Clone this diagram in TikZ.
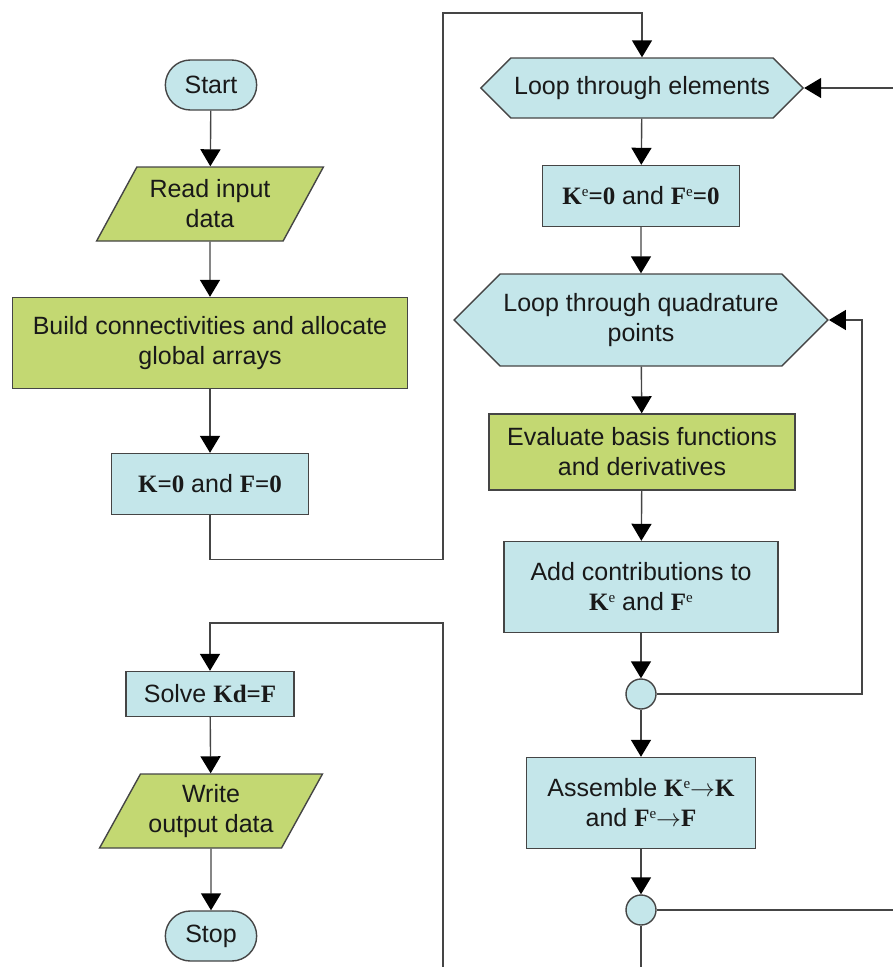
\documentclass[tikz,border=0pt]{standalone}
\usepackage{fontspec}
\setmainfont{Liberation Sans}
\newfontfamily\tms{Liberation Serif}
\usepackage{tikz}
\usetikzlibrary{arrows.meta,shapes.geometric,shapes.misc,shapes.symbols}

\definecolor{boxblue}{HTML}{C4E6EA}
\definecolor{boxgreen}{HTML}{C3D872}
\definecolor{edge}{HTML}{454545}
\newcommand{\vb}[1]{{\tms\bfseries #1}}
\newcommand{\supe}{\raisebox{8pt}{\tms\fontsize{15}{15}\selectfont e}}
\newcommand{\toarr}{$\rightarrow$}

\begin{document}
\begin{tikzpicture}[x=1pt, y=-1pt, line width=1.4pt,
    every node/.style={font=\fontsize{25}{30}\selectfont, text=black!90, align=center},
    term/.style={rounded rectangle, draw=edge, fill=boxblue, minimum width=98pt, minimum height=50pt},
    io/.style={trapezium, trapezium left angle=58, trapezium right angle=122, trapezium stretches=true,
        draw=edge, fill=boxgreen, minimum height=74pt, inner xsep=2pt},
    proc/.style={rectangle, draw=edge, fill=boxblue},
    work/.style={rectangle, draw=edge, fill=boxgreen},
    loopbox/.style={signal, signal to=east and west, signal pointer angle=90, draw=edge, fill=boxblue},
    joint/.style={circle, draw=edge, fill=boxblue, minimum size=30pt, inner sep=0pt},
    flow/.style={draw=edge, -{Triangle[length=17pt,width=20pt,black]}}]
    \useasboundingbox (0,0) rectangle (893,967);

    % Left column
    \node[term] (start) at (211,85) {Start};
    \node[io, minimum width=227pt] (read) at (210,204) {Read input\\data};
    \node[work, minimum width=395pt, minimum height=91pt] (build) at (210,343) {Build connectivities and allocate\\global arrays};
    \node[proc, minimum width=197pt, minimum height=61pt] (kzero) at (210,484) {\vb{K=0} and \vb{F=0}};

    % Element loop
    \node[loopbox, minimum width=320pt, minimum height=60pt] (lpel) at (642,88) {Loop through elements};
    \node[proc, minimum width=197pt, minimum height=61pt] (kezero) at (641,196) {\vb{K}\supe\vb{=0} and \vb{F}\supe\vb{=0}};

    % Quadrature loop
    \node[loopbox, minimum width=350pt, minimum height=92pt] (lpq) at (641,320) {Loop through quadrature\\points};
    \node[work, minimum width=306pt, minimum height=76pt] (evalb) at (642,452) {Evaluate basis functions\\and derivatives};
    \node[proc, minimum width=274pt, minimum height=91pt] (addc) at (641,587) {Add contributions to\\\vb{K}\supe{} and \vb{F}\supe};
    \node[joint] (circ1) at (641,694) {};
    \node[proc, minimum width=229pt, minimum height=91pt] (asm) at (641,803) {Assemble \vb{K}\supe\toarr\vb{K}\\and \vb{F}\supe\toarr\vb{F}};
    \node[joint] (circ2) at (641,910) {};

    % Solve and output
    \node[proc, minimum width=168pt, minimum height=45pt] (solve) at (210,694) {Solve \vb{Kd=F}};
    \node[io, minimum width=223pt] (writ) at (211,811) {Write\\output data};
    \node[term] (stop) at (211,936) {Stop};

    % Loose ends
    \coordinate (topL) at (443,13);
    \coordinate (elIn) at (893,88);
    \coordinate (qret) at (862,320);
    \coordinate (elOut) at (893,910);
    \coordinate (asmOut) at (641,967);
    \coordinate (botL) at (443,967);
    \coordinate (retL) at (443,623);

    % Connectors
    \draw[flow] (start) -- (read);
    \draw[flow] (read) -- (build);
    \draw[flow] (build) -- (kzero);
    \draw[flow] (kzero.south) -- ++(0,44) -| (topL) -| (lpel.north);
    \draw[flow] (elIn) -- (lpel.east);
    \draw[flow] (lpel) -- (kezero);
    \draw[flow] (kezero) -- (lpq);
    \draw[flow] (lpq) -- (evalb);
    \draw[flow] (evalb) -- (addc);
    \draw[flow] (addc) -- (circ1);
    \draw[flow] (circ1.east) -| (qret) -- (lpq.east);
    \draw[flow] (circ1) -- (asm);
    \draw[flow] (asm) -- (circ2);
    \draw[draw=edge] (circ2.east) -- (elOut);
    \draw[draw=edge] (circ2.south) -- (asmOut);
    \draw[flow] (botL) -- (retL) -| (solve.north);
    \draw[flow] (solve) -- (writ);
    \draw[flow] (writ) -- (stop);
\end{tikzpicture}
\end{document}
